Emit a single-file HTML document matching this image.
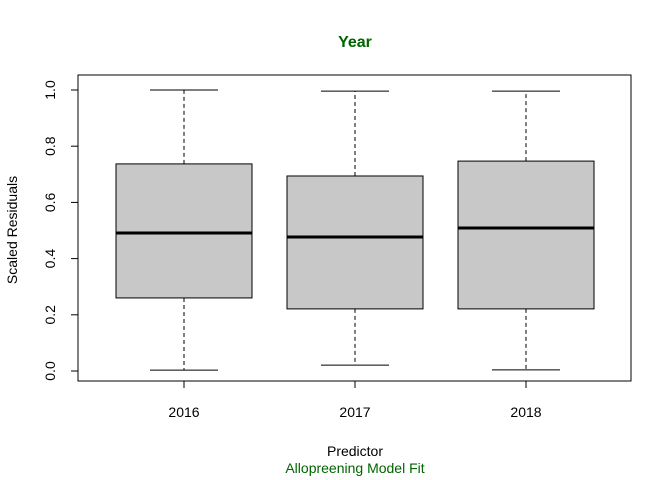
<!DOCTYPE html>
<html><head><meta charset="utf-8"><style>
html,body{margin:0;padding:0;background:#fff;}
svg{display:block;font-family:"Liberation Sans",Arial,sans-serif;}
</style></head><body>
<svg id="chart" width="672" height="480" viewBox="0 0 672 480">
<text x="355" y="47" text-anchor="middle" font-size="16" font-weight="bold" fill="#006400">Year</text>
<rect x="78" y="75" width="553" height="306" fill="none" stroke="#000" stroke-width="1"/>
<g id="marks"></g>
<g id="axes"></g>
<text x="17" y="230" text-anchor="middle" font-size="14" transform="rotate(-90 17 230)">Scaled Residuals</text>
<text x="355" y="456" text-anchor="middle" font-size="14">Predictor</text>
<text x="355" y="473" text-anchor="middle" font-size="14" fill="#006400">Allopreening Model Fit</text>
</svg>
<script>
const categories = ["2016","2017","2018"];
const mins    = [0.003, 0.021, 0.004];
const q1s     = [0.260, 0.221, 0.221];
const medians = [0.491, 0.477, 0.509];
const q3s     = [0.737, 0.694, 0.747];
const maxs    = [1.000, 0.996, 0.996];
const yTicks  = [0, 0.2, 0.4, 0.6, 0.8, 1.0];
const yTickLabels = ["0.0","0.2","0.4","0.6","0.8","1.0"];

const NS = "http://www.w3.org/2000/svg";
function y(v){ return 371 - v * 281; }
function x(i){ return 184 + i * 171; }
const boxHalf = 68, capHalf = 34;
function mk(tag, attrs, parent){
  const e = document.createElementNS(NS, tag);
  for (const k in attrs) e.setAttribute(k, attrs[k]);
  parent.appendChild(e);
  return e;
}
const marks = document.getElementById('marks');
const axes = document.getElementById('axes');
categories.forEach((c, i) => {
  const cx = x(i);
  const g = mk('g', {}, marks);
  
  
  const w1 = mk('line', {x1:cx, x2:cx, y1:y(q3s[i]), y2:y(maxs[i]), stroke:'#000', 'stroke-dasharray':'4,3'}, g);
  
  
  const w2 = mk('line', {x1:cx, x2:cx, y1:y(q1s[i]), y2:y(mins[i]), stroke:'#000', 'stroke-dasharray':'4,3'}, g);
  
  
  const c1 = mk('line', {x1:cx-capHalf, x2:cx+capHalf, y1:y(maxs[i]), y2:y(maxs[i]), stroke:'#000'}, g);
  
  
  const c2 = mk('line', {x1:cx-capHalf, x2:cx+capHalf, y1:y(mins[i]), y2:y(mins[i]), stroke:'#000'}, g);
  
  
  const r = mk('rect', {x:cx-boxHalf, y:y(q3s[i]), width:boxHalf*2, height:y(q1s[i])-y(q3s[i]), fill:'#c8c8c8', stroke:'#000'}, g);
  
  
  const m = mk('line', {x1:cx-boxHalf, x2:cx+boxHalf, y1:y(medians[i]), y2:y(medians[i]), stroke:'#000', 'stroke-width':3}, g);
  
  
  const t = mk('line', {x1:cx, x2:cx, y1:381, y2:388, stroke:'#000'}, axes);
  
  
  const l = mk('text', {x:cx, y:417, 'text-anchor':'middle', 'font-size':14}, axes);
  l.textContent = c;
  
  
});
const ax = mk('line', {x1:x(0), x2:x(categories.length-1), y1:381, y2:381, stroke:'#000'}, axes);


const ay = mk('line', {x1:78, x2:78, y1:y(yTicks[0]), y2:y(yTicks[yTicks.length-1]), stroke:'#000'}, axes);


yTicks.forEach((v, j) => {
  const t = mk('line', {x1:71, x2:78, y1:y(v), y2:y(v), stroke:'#000'}, axes);
  
  
  const tx = 55, ty = y(v);
  const l = mk('text', {x:tx, y:ty, 'text-anchor':'middle', 'font-size':14, transform:'rotate(-90 '+tx+' '+ty+')'}, axes);
  l.textContent = yTickLabels[j];
  
  
});
</script>
</body></html>
